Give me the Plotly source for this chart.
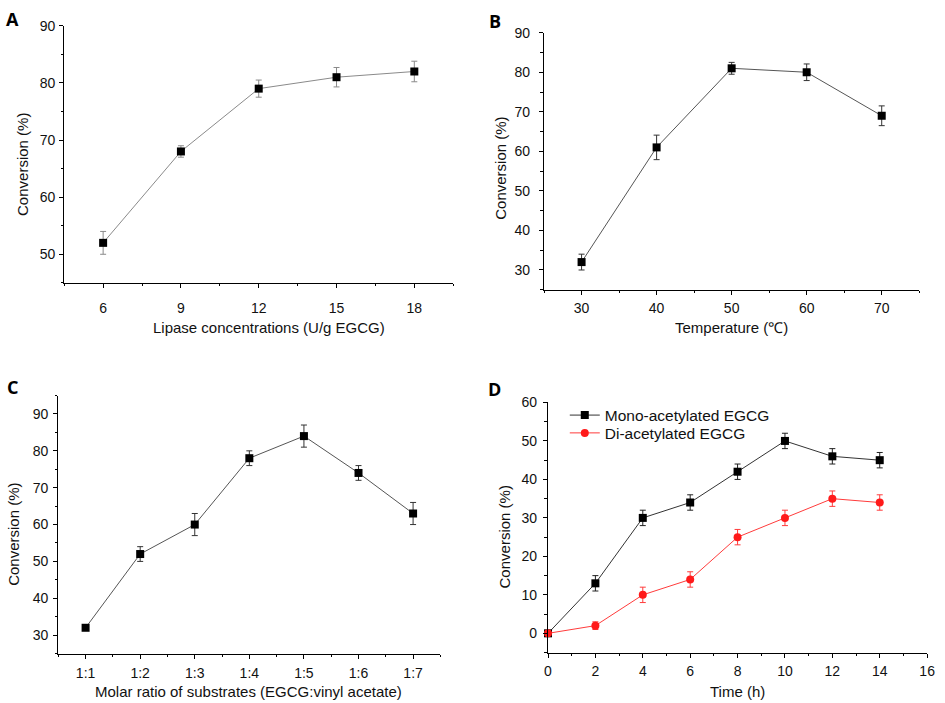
import plotly.graph_objects as go

# ---------------- data ----------------
lipase_x = [6, 9, 12, 15, 18]
lipase_y = [52, 68, 79, 81, 82]
lipase_err = [2, 1, 1.5, 1.7, 1.8]

temp_x = [30, 40, 50, 60, 70]
temp_y = [32, 61, 81, 80, 69]
temp_err = [2, 3.1, 1.5, 2.1, 2.5]

ratio_labels = ["1:1", "1:2", "1:3", "1:4", "1:5", "1:6", "1:7"]
ratio_x = [1, 2, 3, 4, 5, 6, 7]
ratio_y = [32, 52, 60, 78, 84, 74, 63]
ratio_err = [0.5, 2, 3, 2, 3, 2, 3]

time_x = [0, 2, 4, 6, 8, 10, 12, 14]
mono_y = [0, 13, 30, 34, 42, 50, 46, 45]
mono_err = [0, 2, 2, 2, 2, 2, 2, 2]
di_y = [0, 2, 10, 14, 25, 30, 35, 34]
di_err = [0, 1, 2, 2, 2, 2, 2, 2]

W, H = 945, 703
FONT = "Liberation Sans, Arial, sans-serif"


def px(x):
    return x / W


def py(y):
    return 1 - y / H


fig = go.Figure()


def add_series(x, y, err, xa, ya, line_color, err_color, marker_color, symbol,
               name=None, showlegend=False, legend="legend"):
    fig.add_trace(go.Scatter(
        x=x, y=y, mode="lines+markers", xaxis=xa, yaxis=ya, name=name,
        showlegend=showlegend, legend=legend, cliponaxis=False,
        line=dict(color=line_color, width=1),
        marker=dict(symbol=symbol, size=8, color=marker_color, line=dict(width=0)),
        error_y=dict(type="data", array=err, visible=True, color=err_color, thickness=1, width=3),
    ))


add_series(lipase_x, lipase_y, lipase_err, "x", "y", "#8a8a8a", "#8a8a8a", "black", "square")
add_series(temp_x, temp_y, temp_err, "x2", "y2", "#555555", "#333333", "black", "square")
add_series(ratio_x, ratio_y, ratio_err, "x3", "y3", "#555555", "#333333", "black", "square")
add_series(time_x, mono_y, mono_err, "x4", "y4", "#333333", "#222222", "black", "square",
           name="Mono-acetylated EGCG", showlegend=True, legend="legend")
add_series(time_x, di_y, di_err, "x4", "y4", "#ff3b3b", "#ff3b3b", "#ff1a1a", "circle",
           name="Di-acetylated EGCG", showlegend=True, legend="legend2")

tickfont = dict(family=FONT, size=14, color="#111")


def axis(domain, rng, anchor, dtick=None, minor_dtick=None, minor_tick0=0, standoff=0, **kw):
    d = dict(
        domain=domain, range=rng, anchor=anchor, showgrid=False, zeroline=False,
        showline=True, linecolor="black", linewidth=1.3,
        ticks="outside", ticklen=4, tickwidth=1.2, tickcolor="black",
        tickfont=tickfont, ticklabelstandoff=standoff,
        minor=dict(ticks="outside", ticklen=2.5, tickwidth=1, tickcolor="black",
                   dtick=minor_dtick, tick0=minor_tick0),
    )
    if dtick is not None:
        d.update(dtick=dtick, tick0=0)
    d.update(kw)
    return d


def legend_at(x, y):
    return dict(x=px(x), y=py(y), xanchor="left", yanchor="top",
                bgcolor="rgba(0,0,0,0)", borderwidth=0, itemwidth=30,
                font=dict(family=FONT, size=15.5, color="#111"), tracegroupgap=0)


fig.update_layout(
    width=W, height=H, margin=dict(l=0, r=0, t=0, b=0),
    paper_bgcolor="white", plot_bgcolor="white",
    font=dict(family=FONT, size=15, color="#111"),
    xaxis=axis([px(61), px(455)], [4.5, 19.5], "y", dtick=3, minor_dtick=1.5, standoff=8),
    yaxis=axis([py(278), py(18)], [45, 90], "x", dtick=10, minor_dtick=5, standoff=1),
    xaxis2=axis([px(547), px(927)], [25, 75], "y2", dtick=10, minor_dtick=5, standoff=1),
    yaxis2=axis([py(285), py(25)], [25, 90], "x2", dtick=10, minor_dtick=5, standoff=6),
    xaxis3=axis([px(55), px(442)], [0.5, 7.5], "y3", minor_dtick=1, minor_tick0=0.5, standoff=2,
                tickmode="array", tickvals=ratio_x, ticktext=ratio_labels),
    yaxis3=axis([py(653), py(392)], [25, 95], "x3", dtick=10, minor_dtick=5, standoff=2),
    xaxis4=axis([px(551), px(935)], [0, 16], "y4", dtick=2, minor_dtick=1, standoff=1),
    yaxis4=axis([py(652), py(399)], [-5, 60], "x4", dtick=10, minor_dtick=5, standoff=3),
    legend=legend_at(568, 395),
    legend2=legend_at(568, 413),
)

annots = [
    # panel letters
    ("A", 9, 11, 0, True), ("B", 497, 13, 0, True), ("C", 9, 383, 0, True), ("D", 497, 385, 0, True),
    # axis titles
    ("Lipase concentrations (U/g EGCG)", 268, 323, 0, False),
    ("Conversion (%)", 18, 158, -90, False),
    ("Temperature (℃)", 737, 323, 0, False),
    ("Conversion (%)", 503, 162, -90, False),
    ("Molar ratio of substrates (EGCG:vinyl acetate)", 248, 691, 0, False),
    ("Conversion (%)", 10, 532, -90, False),
    ("Time (h)", 743, 691, 0, False),
    ("Conversion (%)", 507, 535, -90, False),
]
for text, x, y, ang, letter in annots:
    fig.add_annotation(
        text=f"<b>{text}</b>" if letter else text,
        x=px(x), y=py(y), xref="paper", yref="paper", showarrow=False,
        xanchor="center", yanchor="middle", textangle=ang,
        font=dict(family="Open Sans, Liberation Sans, sans-serif" if letter else FONT,
                  size=18 if letter else 15, color="black" if letter else "#111"),
    )

fig.write_html(
    "out.html",
    config={"displayModeBar": False},
    post_script="document.documentElement.style.margin='0';document.body.style.margin='0';"
                "document.body.style.padding='0';document.body.style.overflow='hidden';",
)
